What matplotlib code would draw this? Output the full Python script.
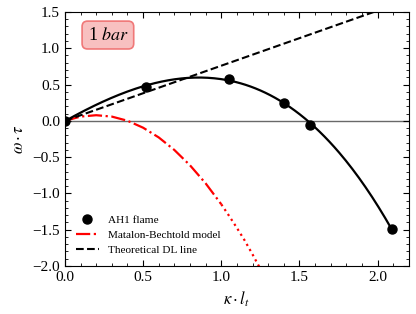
import matplotlib
matplotlib.use('Agg')
import matplotlib.pyplot as plt
import numpy as np

plt.rcParams['font.family'] = 'serif'
plt.rcParams['font.serif'] = ['Liberation Serif', 'DejaVu Serif']
plt.rcParams['mathtext.fontset'] = 'stix'

# AH1 flame measurements
k_flame = [0.0, 0.52, 1.05, 1.40, 1.57, 2.09]
w_flame = [0.0, 0.47, 0.58, 0.25, -0.055, -1.49]

# Matalon-Bechtold model
k_mb = [0.0, 0.1, 0.2, 0.3, 0.4, 0.5, 0.6, 0.7, 0.8, 0.9, 1.0]
w_mb = [0.0, 0.058, 0.077, 0.058, 0.001, -0.095, -0.229, -0.402, -0.613, -0.862, -1.15]
k_mb_ext = [1.0, 1.05, 1.1, 1.15, 1.2, 1.25]
w_mb_ext = [-1.15, -1.31, -1.476, -1.65, -1.841, -2.04]

# theoretical DL line
k_dl = [0.0, 2.2]
w_dl = [0.0, 1.67]

fig = plt.figure(figsize=(4.16, 3.14), dpi=100)
ax = fig.add_axes([0.156, 0.153, 0.827, 0.809])

ax.axhline(0, color='dimgray', lw=1.0, zorder=1)

coef = np.polyfit(k_flame, w_flame, 3)
kk = np.linspace(0, max(k_flame), 200)
ax.plot(kk, np.polyval(coef, kk), color='k', lw=1.6, zorder=3)
ax.plot(k_flame, w_flame, 'o', color='k', ms=6.5, zorder=4, label='AH1 flame')

ax.plot(k_mb, w_mb, color='red', lw=1.6, ls='-.', label='Matalon-Bechtold model', zorder=2)
ax.plot(k_mb_ext, w_mb_ext, color='red', lw=1.6, ls=':', zorder=2)

ax.plot(k_dl, w_dl, color='k', lw=1.5, ls='--', label='Theoretical DL line', zorder=2)

ax.set_xlim(0, 2.2)
ax.set_ylim(-2.0, 1.5)
ax.set_xticks([0.0, 0.5, 1.0, 1.5, 2.0])
ax.set_yticks([-2.0, -1.5, -1.0, -0.5, 0.0, 0.5, 1.0, 1.5])
ax.xaxis.set_minor_locator(matplotlib.ticker.MultipleLocator(0.1))
ax.yaxis.set_minor_locator(matplotlib.ticker.MultipleLocator(0.1))
ax.tick_params(which='both', direction='in', top=True, right=True, labelsize=11)
ax.tick_params(which='major', length=4, width=0.8)
ax.tick_params(which='minor', length=2, width=0.6)

ax.set_xlabel(r'$\kappa\cdot l_t$', fontsize=12)
ax.set_ylabel(r'$\omega\cdot\tau$', fontsize=12)

ax.text(0.125, 0.909, r'1$\ bar$', transform=ax.transAxes, ha='center', va='center',
        fontsize=13, bbox=dict(boxstyle='round,pad=0.3', fc='#f8c0c0', ec='#f07878', lw=1.2))

ax.legend(loc='lower left', frameon=False, fontsize=8.1, handlelength=2.0,
          labelspacing=0.45, borderaxespad=0.6)

fig.savefig('out.png', dpi=100)
